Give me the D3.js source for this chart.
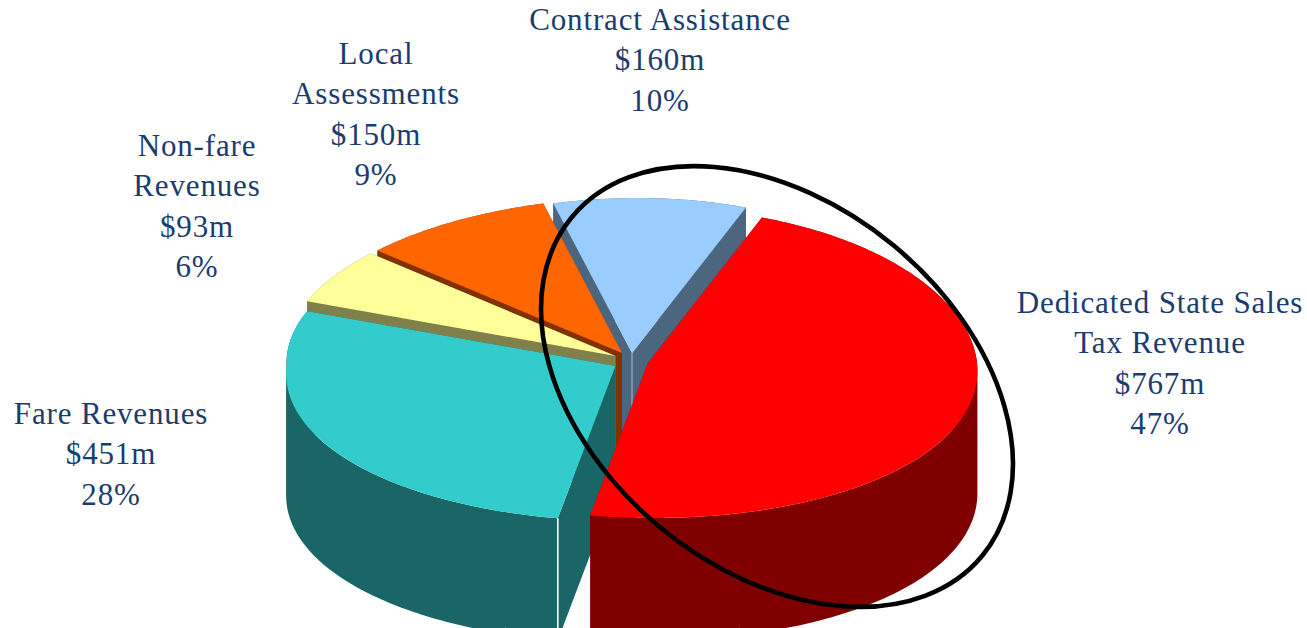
<!DOCTYPE html>
<html>
<head>
<meta charset="utf-8">
<script src="https://cdn.jsdelivr.net/npm/d3@7/dist/d3.min.js"></script>
<style>
html,body{margin:0;padding:0;background:#fff;overflow:hidden}
svg{display:block}
text{font-family:"Liberation Serif",serif;fill:#1b3c6f;font-size:31px;letter-spacing:.85px}
</style>
</head>
<body>
<svg id="chart" width="1307" height="628"></svg>
<script>
// ---- data (clockwise from the top) ----
const categories = ["Contract Assistance","Dedicated State Sales Tax Revenue","Fare Revenues","Non-fare Revenues","Local Assessments"];
const valuesM = [160,767,451,93,150];
const labelLines = [["Contract Assistance"],["Dedicated State Sales","Tax Revenue"],["Fare Revenues"],["Non-fare","Revenues"],["Local","Assessments"]];

// ---- styles and layout ----
const topColors  = ["#99CCFF","#FF0000","#33CCCC","#FFFF99","#FF6600"];
const sideColors = ["#4D6680","#800000","#1A6666","#80804D","#803300"];
const sliceShiftX = [0,16,-16.5,-16.5,-10];
const sliceShiftY = [-2,8,11,1,-2];
const labelX = [660,1160,111,197,376];
const labelFirstBaseline = [30,313,424,156,64];
const lineStep = 40.4;
const cx = 632, cy = 355, rx = 329, ry = 155, persp = 0.05, bend = 6, shoulder = 22, depth = 122;
const firstAngle = -15.3 * Math.PI / 180;

const svg = d3.select("#chart");
const pie = d3.pie().sort(null).startAngle(firstAngle).endAngle(firstAngle + 2*Math.PI);
const arcs = pie(valuesM);
const total = d3.sum(valuesM);
const scaleX = d3.scaleLinear().domain([-1,1]).range([-rx,rx]);
const scaleY = d3.scaleLinear().domain([-1,1]).range([ry,-ry]);

function rim(i,a,z=0){
  const u=Math.sin(a), v=Math.cos(a);
  const upperLeft=(u<0&&v>0)? shoulder*u*u*v : 0;
  return [cx+sliceShiftX[i]+scaleX(u)/(1+persp*v)+bend*v*v-upperLeft, cy+sliceShiftY[i]+scaleY(v)+z];
}
function apex(i,z=0){ return [cx+sliceShiftX[i], cy+sliceShiftY[i]+z]; }
function rimPoints(i,d,z=0){
  const n=Math.ceil((d.endAngle-d.startAngle)/(Math.PI/180));
  return d3.range(n+1).map(k=>rim(i,d.startAngle+(d.endAngle-d.startAngle)*k/n,z));
}
const line = d3.line();
const closed = pts => line(pts)+"Z";
function face(i,a){ return closed([rim(i,a),apex(i),apex(i,depth),rim(i,a,depth)]); }
// one outline per wall segment, all wound the same way so that they merge in one path
const sameWinding = q => d3.polygonArea(q)<0 ? q.slice().reverse() : q;

const idx=n=>categories.indexOf(n);
const iB=idx("Contract Assistance"),iL=idx("Local Assessments"),iN=idx("Non-fare Revenues"),iF=idx("Fare Revenues");

// painter's order: back slice first
const order=[0,4,3,2,1];
const walls=svg.append("g");
order.forEach(i=>{
  const d=arcs[i];
  const g=walls.append("g").attr("fill",sideColors[i]);
  const up=rimPoints(i,d), down=rimPoints(i,d,depth);
  g.append("path").attr("fill-rule","nonzero")
    .attr("d",d3.range(up.length-1).map(k=>closed(sameWinding([up[k],up[k+1],down[k+1],down[k]]))).join(""));
  g.append("path").attr("d",face(i,d.endAngle));
  g.append("path").attr("d",face(i,d.startAngle));
  if(i===iB) g.append("path").attr("d",line([apex(iB),apex(iB,depth)])).attr("fill","none").attr("stroke","#a9bccd").attr("stroke-width",1);
});
// tops
const tops=svg.append("g");
order.forEach(i=>{
  tops.append("path").attr("d",closed([apex(i)].concat(rimPoints(i,arcs[i])))).attr("fill",topColors[i]);
});

// fine highlights along cut edges
function edgeSeg(p,q,t0,t1){
  const a=d3.interpolate(p,q);
  return line([a(t0),a(t1)]);
}
const hl=svg.append("g").attr("fill","none");
// thin strip of the orange side seen under the yellow top
const yelEdge=[rim(iN,arcs[iN].startAngle),apex(iN)];
const tStart=(rim(iL,arcs[iL].startAngle)[0]-yelEdge[0][0])/(yelEdge[1][0]-yelEdge[0][0]);
hl.append("path").attr("d",edgeSeg(yelEdge[0],yelEdge[1],tStart,1)).attr("stroke",sideColors[iL]).attr("stroke-width",1.6);
hl.append("path").attr("d",edgeSeg(yelEdge[0],yelEdge[1],0,tStart)).attr("stroke","#fff").attr("stroke-width",1.4);
hl.append("path").attr("d",edgeSeg(rim(iL,arcs[iL].startAngle),apex(iL),0,0.72)).attr("stroke","#fff").attr("stroke-width",1.2);
hl.append("path").attr("d",edgeSeg(rim(iB,arcs[iB].startAngle),apex(iB),0,0.3)).attr("stroke","#dfeeff").attr("stroke-width",1);
// white seam of the teal slice
const fareRim=rim(iF,arcs[iF].startAngle);
hl.append("path").attr("d",line([fareRim,rim(iF,arcs[iF].startAngle,depth)])).attr("stroke","#fff").attr("stroke-width",1.6);
hl.append("path").attr("d",edgeSeg(fareRim,apex(iF),0,0.3)).attr("stroke","#fff").attr("stroke-width",1.2);

// hand-drawn highlight ellipse
svg.append("ellipse")
  .attr("cx",777).attr("cy",386.5).attr("rx",266).attr("ry",183)
  .attr("transform","rotate(39.5 777 386.5)")
  .attr("fill","none").attr("stroke","#000").attr("stroke-width",4.6);

// labels
const fmtM=v=>"$"+v+"m", fmtP=v=>Math.round(v/total*100)+"%";
categories.forEach((c,i)=>{
  const lines=labelLines[i].concat([fmtM(valuesM[i]),fmtP(valuesM[i])]);
  svg.append("g").selectAll("text").data(lines).join("text")
    .attr("x",labelX[i]).attr("y",(d,k)=>labelFirstBaseline[i]+k*lineStep)
    .attr("text-anchor","middle").text(d=>d);
});
</script>
</body>
</html>
